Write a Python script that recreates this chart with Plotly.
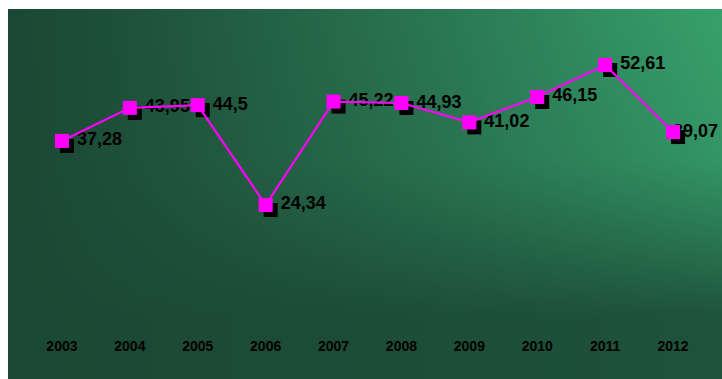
import base64
import struct
import zlib

import plotly.graph_objects as go

years = ["2003", "2004", "2005", "2006", "2007", "2008", "2009", "2010", "2011", "2012"]
values = [37.28, 43.95, 44.5, 24.34, 45.22, 44.93, 41.02, 46.15, 52.61, 39.07]
labels = [str(v).replace(".", ",") for v in values]

W, H = 722, 379


def gradient_png(w, h):
    dark = (27, 72, 52)
    light = (55, 160, 108)
    raw = bytearray()
    for j in range(h):
        yy = j / (h - 1)
        if yy < 0.4:
            v = 1.0 - yy * 0.3
        else:
            v = max(0.12, 0.88 - ((yy - 0.4) / 0.45) ** 1.1 * 0.78)
        raw.append(0)
        for i in range(w):
            xx = i / (w - 1)
            t = min(1.0, (xx ** 1.2) * v)
            for c in range(3):
                raw.append(int(round(dark[c] + (light[c] - dark[c]) * t)))

    def chunk(tag, data):
        return struct.pack(">I", len(data)) + tag + data + struct.pack(">I", zlib.crc32(tag + data) & 0xFFFFFFFF)

    png = b"\x89PNG\r\n\x1a\n"
    png += chunk(b"IHDR", struct.pack(">IIBBBBB", w, h, 8, 2, 0, 0, 0))
    png += chunk(b"IDAT", zlib.compress(bytes(raw), 9))
    png += chunk(b"IEND", b"")
    return "data:image/png;base64," + base64.b64encode(png).decode()


x0, x1 = 28 / W, 707 / W
y0, y1 = (H - 325.5) / H, (H - 28.4) / H
dx, dy = 5 / W, 5 / H

FONT = "Arial, Liberation Sans, sans-serif"

fig = go.Figure()

# shadow squares (own subplot, shifted by a few pixels)
fig.add_trace(go.Scatter(
    x=years, y=values, mode="markers",
    marker=dict(symbol="square", size=14, color="#000000", line=dict(width=0)),
    xaxis="x", yaxis="y", cliponaxis=False, showlegend=False, hoverinfo="skip",
))
# value labels
fig.add_trace(go.Scatter(
    x=years, y=values, mode="text",
    text=["   " + s for s in labels[:-1]] + [labels[-1]],
    textposition="middle right", cliponaxis=False,
    textfont=dict(family=FONT, size=18, color="#000000", weight="bold"),
    xaxis="x2", yaxis="y2", hoverinfo="skip", showlegend=False,
))
# main line
fig.add_trace(go.Scatter(
    x=years, y=values, mode="lines+markers",
    line=dict(color="#ff00ff", width=2.2),
    marker=dict(symbol="square", size=14, color="#ff00ff", line=dict(width=0)),
    xaxis="x2", yaxis="y2", cliponaxis=False, showlegend=False,
))

common_x = dict(type="category", range=[-0.5, 9.5], showgrid=False, zeroline=False,
                showline=False, fixedrange=True)
common_y = dict(range=[0, 60], showgrid=False, zeroline=False, showline=False,
                visible=False, fixedrange=True)

fig.update_layout(
    width=W, height=H,
    margin=dict(l=0, r=0, t=0, b=0),
    paper_bgcolor="#ffffff", plot_bgcolor="rgba(0,0,0,0)",
    showlegend=False,
    font=dict(family=FONT),
    xaxis=dict(domain=[x0 + dx, x1 + dx], visible=False, anchor="y", **common_x),
    yaxis=dict(domain=[y0 - dy, y1 - dy], anchor="x", **common_y),
    xaxis2=dict(domain=[x0, x1], anchor="y2", ticks="outside", ticklen=0, ticklabelstandoff=8,
                tickfont=dict(family=FONT, size=14, color="#000000", weight="bold"), **common_x),
    yaxis2=dict(domain=[y0, y1], anchor="x2", **common_y),
    images=[dict(source=gradient_png(144, 74), xref="paper", yref="paper",
                 x=8 / W, y=1 - 9 / H, sizex=1 - 8 / W, sizey=1 - 9 / H,
                 xanchor="left", yanchor="top", sizing="stretch", layer="below")],
)

fig.write_html("out.html")
